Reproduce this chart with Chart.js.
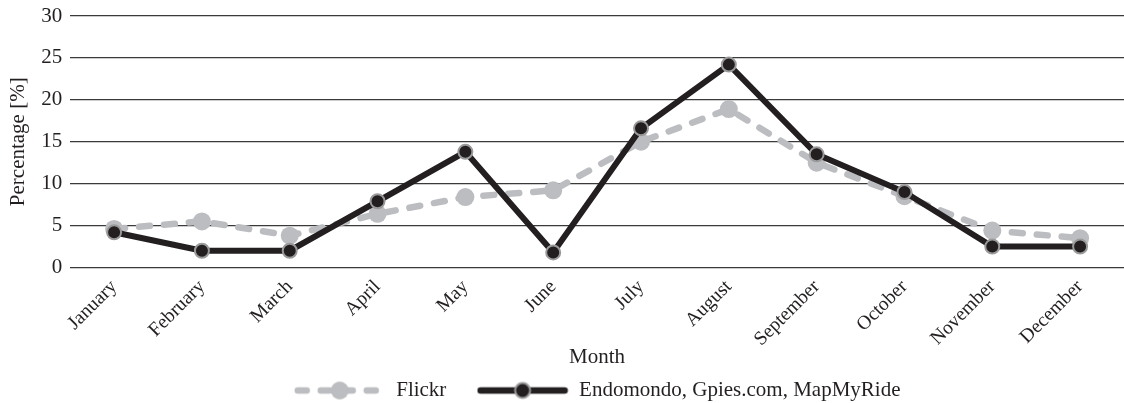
<!DOCTYPE html>
<html>
<head>
<meta charset="utf-8">
<script src="https://cdn.jsdelivr.net/npm/chart.js@4.4.0/dist/chart.umd.min.js"></script>
<style>
  html, body { margin: 0; padding: 0; background: #fff; width: 1124px; height: 403px; overflow: hidden; }
  /* um pouco maior que a janela: o excesso fica fora da foto */
  #wrap { width: 1133px; height: 411px; }
</style>
</head>
<body>
<div id="wrap"><canvas id="grafico"></canvas></div>
<script>
const months = ['January', 'February', 'March', 'April', 'May', 'June', 'July', 'August', 'September', 'October', 'November', 'December'];
const flickr = [4.6, 5.5, 3.8, 6.4, 8.4, 9.2, 15.0, 18.9, 12.5, 8.5, 4.4, 3.5];
const endomondo = [4.2, 2.0, 2.0, 7.9, 13.8, 1.8, 16.6, 24.2, 13.5, 9.0, 2.5, 2.5];
const seriesNames = ['Flickr', 'Endomondo, Gpies.com, MapMyRide'];
const yTicks = [0, 5, 10, 15, 20, 25, 30];

const fonte = "'Liberation Serif', 'Times New Roman', serif";
const preto = '#231f20';
const cinza = '#bcbdc0';

// simbolo da legenda: pedaco de linha com o marcador no meio
function simbolo(tracejado) {
  const c = document.createElement('canvas');
  c.width = 92;
  c.height = 22;
  const g = c.getContext('2d');
  g.lineCap = 'round';
  g.lineWidth = 6.5;
  g.strokeStyle = tracejado ? cinza : preto;
  if (tracejado) g.setLineDash([9, 14]);
  g.beginPath();
  g.moveTo(4, 11);
  g.lineTo(88, 11);
  g.stroke();
  g.setLineDash([]);
  g.beginPath();
  if (tracejado) {
    g.arc(46, 11, 9, 0, Math.PI * 2);
    g.fillStyle = cinza;
    g.fill();
  } else {
    g.arc(46, 11, 7.5, 0, Math.PI * 2);
    g.fillStyle = preto;
    g.fill();
    g.lineWidth = 2;
    g.strokeStyle = '#9a9a9a';
    g.stroke();
  }
  return c;
}

const simbolos = [simbolo(true), simbolo(false)];

new Chart(document.getElementById('grafico'), {
  type: 'line',
  data: {
    labels: months,
    datasets: [
      {
        label: seriesNames[0],
        data: flickr,
        order: 2,
        borderColor: cinza,
        backgroundColor: cinza,
        borderWidth: 6.5,
        borderDash: [11, 14],
        borderCapStyle: 'round',
        pointRadius: 9,
        pointBackgroundColor: cinza,
        pointBorderColor: cinza,
        pointBorderWidth: 0,
        tension: 0
      },
      {
        label: seriesNames[1],
        data: endomondo,
        order: 1,
        borderColor: preto,
        backgroundColor: preto,
        borderWidth: 6,
        pointRadius: 7,
        pointBackgroundColor: preto,
        pointBorderColor: '#9a9a9a',
        pointBorderWidth: 2,
        tension: 0
      }
    ]
  },
  options: {
    responsive: true,
    maintainAspectRatio: false,
    animation: false,
    layout: { padding: { top: 2, right: 0, bottom: 0, left: 6 } },
    plugins: {
      tooltip: { enabled: false },
      legend: {
        display: true,
        position: 'bottom',
        fullSize: false,
        labels: {
          color: preto,
          font: { size: 21, family: fonte, lineHeight: 1 },
          usePointStyle: true,
          pointStyleWidth: 92,
          padding: 4,
          generateLabels: chart => chart.data.datasets.map((ds, i) => ({
            text: i === 0 ? ds.label + '\u2003 ' : ds.label,
            pointStyle: simbolos[i],
            fontColor: preto,
            datasetIndex: i,
            hidden: false,
            lineWidth: 0
          }))
        }
      }
    },
    scales: {
      x: {
        offset: true,
        grid: { display: false },
        border: { display: false },
        afterFit: axis => {
          axis.height = 108.5;
          axis.paddingRight = 0;
        },
        ticks: {
          color: preto,
          font: { size: 19.5, family: fonte },
          maxRotation: 45,
          minRotation: 45,
          padding: 0
        },
        title: {
          display: true,
          text: 'Month',
          color: preto,
          font: { size: 21, family: fonte, lineHeight: 1 },
          padding: { top: 0, bottom: 8.5 }
        }
      },
      y: {
        min: 0,
        max: 30,
        afterBuildTicks: axis => { axis.ticks = yTicks.map(v => ({ value: v })); },
        afterFit: axis => { axis.paddingTop = 16; },
        grid: {
          color: '#3a3a3a',
          lineWidth: 1.3,
          drawTicks: false
        },
        border: { display: false },
        ticks: {
          color: preto,
          font: { size: 21, family: fonte, lineHeight: 1 },
          padding: 8
        },
        title: {
          display: true,
          text: 'Percentage [%]',
          color: preto,
          font: { size: 21, family: fonte },
          padding: { top: 0, bottom: 2 }
        }
      }
    }
  }
});
</script>
</body>
</html>
